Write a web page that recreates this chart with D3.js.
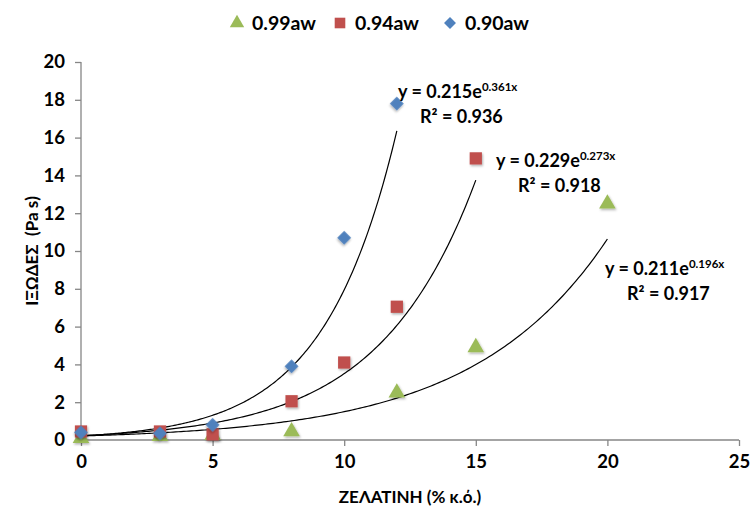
<!DOCTYPE html>
<html>
<head>
<meta charset="utf-8">
<script src="https://cdn.jsdelivr.net/npm/d3@7"></script>
<style>
  body { margin: 0; background: #fff; }
  svg { display: block; font-family: Lato, "Open Sans", sans-serif; }
</style>
</head>
<body>
<svg id="chart" width="750" height="511"></svg>
<script>
// Gelatin concentration (% w/v) and measured viscosity (Pa s) per water activity
const xTicks = [0, 5, 10, 15, 20, 25];
const yTicks = [0, 2, 4, 6, 8, 10, 12, 14, 16, 18, 20];

const gelatin099 = [0, 3, 5, 8, 12, 15, 20];
const visc099    = [0.1, 0.2, 0.25, 0.45, 2.5, 4.9, 12.5];

const gelatin094 = [0, 3, 5, 8, 10, 12, 15];
const visc094    = [0.45, 0.45, 0.3, 2.05, 4.1, 7.05, 14.9];

const gelatin090 = [0, 3, 5, 8, 10, 12];
const visc090    = [0.4, 0.35, 0.8, 3.9, 10.7, 17.8];

// Exponential fits y = a·e^(b·x)
const seriesNames = ["0.99aw", "0.94aw", "0.90aw"];
const fitA  = [0.211, 0.229, 0.215];
const fitB  = [0.196, 0.273, 0.361];
const fitR2 = ["0.917", "0.918", "0.936"];

const colors  = ["#9BBB59", "#C0504D", "#4F81BD"];
const symbols = [d3.symbolTriangle, d3.symbolSquare, d3.symbolSquare];
const symSize = [120, 150, 95];
const symRot  = [0, 0, 45];

const series = [
  { x: gelatin099, y: visc099 },
  { x: gelatin094, y: visc094 },
  { x: gelatin090, y: visc090 }
];

const svg = d3.select("#chart");
const margin = { left: 81, right: 11, top: 62, bottom: 71 };
const W = 750, H = 511;

const x = d3.scaleLinear().domain([0, 25]).range([margin.left, W - margin.right]);
const y = d3.scaleLinear().domain([0, 20]).range([H - margin.bottom, margin.top]);

const axisColor = "#868686";

// Axes
const gx = svg.append("g")
  .attr("transform", `translate(0,${y(0)})`)
  .call(d3.axisBottom(x).tickValues(xTicks).tickSize(6).tickPadding(9));
const gy = svg.append("g")
  .attr("transform", `translate(${x(0)},0)`)
  .call(d3.axisLeft(y).tickValues(yTicks).tickSize(6).tickPadding(10));

[gx, gy].forEach(g => {
  g.selectAll("path, line").attr("stroke", axisColor).attr("stroke-width", 1.3);
  g.selectAll("text")
    .attr("fill", "#000")
    .style("font-size", "18.5px")
    .style("font-weight", "bold")
    .style("font-family", "Lato, sans-serif");
});
// Plain axis lines without end caps
gx.select(".domain").attr("d", `M${x(0)},0H${x(25)}`);
gy.select(".domain").attr("d", `M0,${y(0)}V${y(20)}`);

// Axis titles
svg.append("text")
  .attr("x", (x(0) + x(25)) / 2)
  .attr("y", 503)
  .attr("text-anchor", "middle")
  .style("font-size", "17px")
  .style("font-weight", "bold")
  .text("ΖΕΛΑΤΙΝΗ (% κ.ό.)");

svg.append("text")
  .attr("transform", `translate(38,${(y(0) + y(20)) / 2}) rotate(-90)`)
  .attr("text-anchor", "middle")
  .style("font-size", "17px")
  .style("font-weight", "bold")
  .attr("xml:space", "preserve")
  .text("ΙΞΩΔΕΣ  (Pa s)");

// Trend lines
const line = d3.line().x(d => x(d[0])).y(d => y(d[1]));
series.forEach((s, i) => {
  const xmax = d3.max(s.x);
  const pts = d3.range(0, 201).map(k => {
    const xv = xmax * k / 200;
    return [xv, fitA[i] * Math.exp(fitB[i] * xv)];
  });
  svg.append("path")
    .datum(pts)
    .attr("d", line)
    .attr("fill", "none")
    .attr("stroke", "#000")
    .attr("stroke-width", 1.2);
});

// Markers
const defs = svg.append("defs");
const f = defs.append("filter").attr("id", "shadow").attr("x", "-50%").attr("y", "-50%").attr("width", "200%").attr("height", "200%");
f.append("feDropShadow").attr("dx", 1).attr("dy", 1.5).attr("stdDeviation", 1).attr("flood-color", "#000").attr("flood-opacity", 0.3);

series.forEach((s, i) => {
  svg.append("g").selectAll("path")
    .data(s.x.map((xv, k) => [xv, s.y[k]]))
    .join("path")
    .attr("transform", d => `translate(${x(d[0])},${y(d[1])}) rotate(${symRot[i]})`)
    .attr("d", d3.symbol().type(symbols[i]).size(symSize[i]))
    .attr("fill", colors[i])
    .attr("filter", "url(#shadow)");
});

// Fit equations
const eqPos = [
  { x: 605, y: 275 },
  { x: 496, y: 167 },
  { x: 398, y: 98 }
];
series.forEach((s, i) => {
  const t = svg.append("text")
    .attr("x", eqPos[i].x)
    .attr("y", eqPos[i].y)
    .style("font-size", "18px")
    .style("font-weight", "bold");
  t.append("tspan").text(`y = ${fitA[i].toFixed(3)}e`);
  t.append("tspan").attr("dy", -7).style("font-size", "11.5px").text(`${fitB[i].toFixed(3)}x`);
  svg.append("text")
    .attr("x", eqPos[i].x + 22)
    .attr("y", eqPos[i].y + 25)
    .style("font-size", "18px")
    .style("font-weight", "bold")
    .text(`R² = ${fitR2[i]}`);
});

// Legend
const legendX = [237, 340, 450];
seriesNames.forEach((name, i) => {
  svg.append("path")
    .attr("transform", `translate(${legendX[i]},23) rotate(${symRot[i]})`)
    .attr("d", d3.symbol().type(symbols[i]).size(symSize[i] * 0.75))
    .attr("fill", colors[i]);
  svg.append("text")
    .attr("x", legendX[i] + 15)
    .attr("y", 30)
    .style("font-size", "19.5px")
    .style("font-weight", "bold")
    .text(name);
});
</script>
</body>
</html>
